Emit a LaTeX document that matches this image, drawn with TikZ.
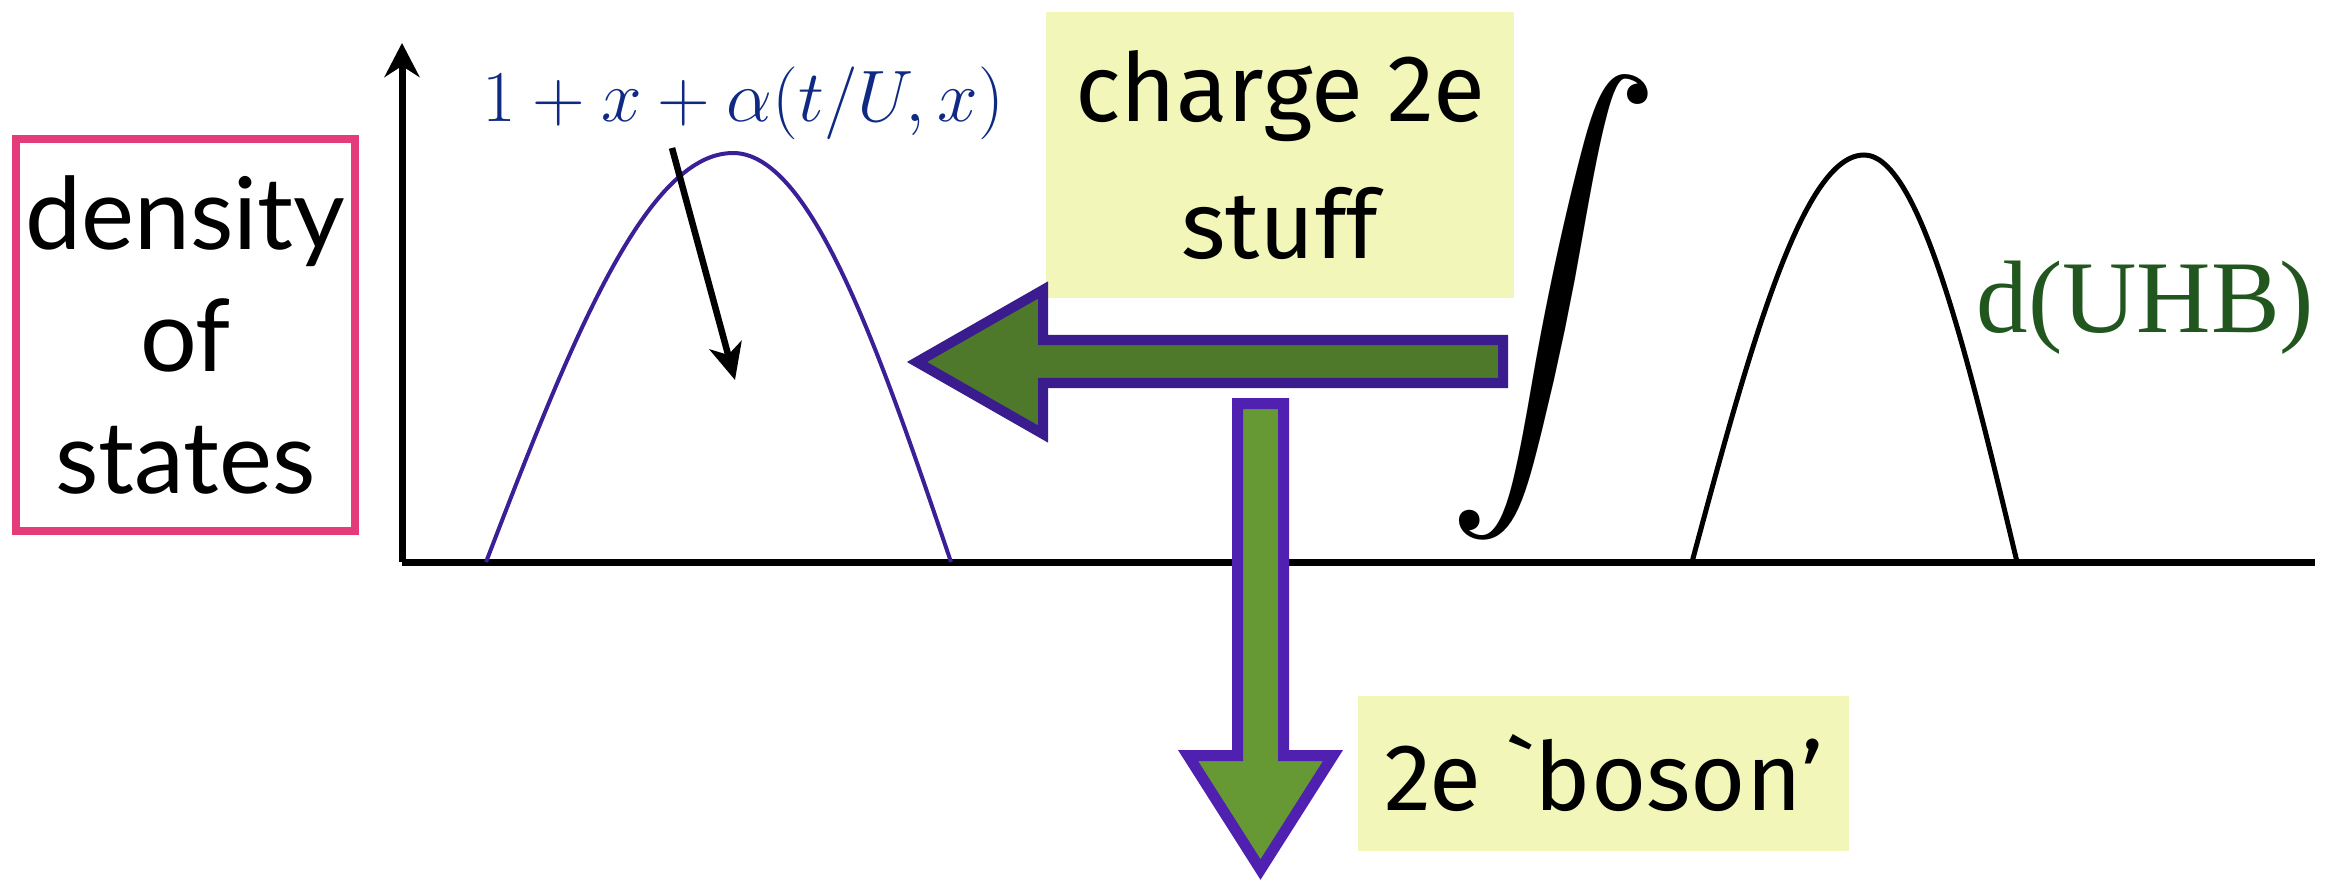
\documentclass[tikz,border=0pt]{standalone}
\usepackage{fontspec}
\usepackage{graphicx}
\usetikzlibrary{arrows.meta}
\newfontfamily\dosfont{Lato}
\newfontfamily\notefont[Ligatures=TeX]{Fira Sans}
\newfontfamily\bandfont{Liberation Serif}
\definecolor{dospink}{RGB}{228,59,122}
\definecolor{noteyellow}{RGB}{242,246,184}
\definecolor{formulablue}{RGB}{16,42,131}
\definecolor{lhbblue}{RGB}{58,31,150}
\definecolor{uhbgreen}{RGB}{33,86,30}
\definecolor{leftfill}{RGB}{78,121,42}
\definecolor{leftdraw}{RGB}{58,28,143}
\definecolor{downfill}{RGB}{102,153,51}
\definecolor{downdraw}{RGB}{80,32,176}

\begin{document}
\begin{tikzpicture}[x=0.01cm, y=-0.01cm, >={Stealth}]
  % Define styles
  \tikzstyle{axis} = [line width=0.07cm, black]
  \tikzstyle{note} = [fill=noteyellow, inner sep=0pt, align=center, font=\notefont\fontsize{27}{39}\selectfont]
  \tikzstyle{bigarrow} = [line width=0.1cm, line join=miter]

  \useasboundingbox (0,0) rectangle (2337,879);

  % Nodes
  \node[draw=dospink, line width=0.08cm, minimum width=3.39cm, minimum height=3.92cm, align=center, inner sep=0pt, font=\dosfont\fontsize{28.5}{34.7}\selectfont] (dos) at (185.5,335) {density\\of\\states};
  \node[note, minimum width=4.68cm, minimum height=2.86cm] (charge) at (1280,155) {charge 2e\\stuff};
  \node[note, minimum width=4.91cm, minimum height=1.55cm] (boson) at (1603.5,773.5) {2e \textasciigrave boson'};
  \node[formulablue, anchor=base west, inner sep=0pt, font=\fontsize{21}{25}\selectfont] (formula) at (482,122) {$1+x+\alpha(t/U,x)$};
  \node[inner sep=0pt] (integral) at (1554,307.5) {\scalebox{6.05}[5.96]{$\displaystyle\int$}};
  \node[uhbgreen, anchor=base east, inner sep=0pt, font=\bandfont\fontsize{29.3}{34}\selectfont] (uhb) at (2315,332) {d(UHB)};

  % Axes
  \coordinate (origin) at (402,562);
  \coordinate (ytop) at (402,43);
  \coordinate (xend) at (2315,562);
  \draw[axis, -{Stealth[length=0.34cm, width=0.35cm]}] (origin) -- (ytop);
  \draw[axis] (origin) -- (xend);

  % Bands
  \draw[lhbblue, line width=0.04cm] plot[domain=-90:90, samples=73, smooth] ({733+(\x<0)*2.744*\x+(\x>=0)*2.422*\x}, {562-409*cos(\x)});
  \draw[black, line width=0.05cm] plot[domain=-90:90, samples=73, smooth] ({1864+(\x<0)*1.911*\x+(\x>=0)*1.7*\x}, {562-407*cos(\x)});

  % Arrows
  \coordinate (ptrstart) at (672,148);
  \coordinate (ptrend) at (735,380);
  \draw[line width=0.065cm, -{Stealth[length=0.36cm, width=0.33cm, inset=0.1cm]}] (ptrstart) -- (ptrend);
  \draw[bigarrow, draw=leftdraw, fill=leftfill] (917,362) -- (1043,290) -- (1043,340) -- (1503,340) -- (1503,383) -- (1043,383) -- (1043,434) -- cycle;
  \draw[bigarrow, draw=downdraw, fill=downfill, line width=0.11cm] (1237.5,403.5) -- (1283.5,403.5) -- (1283.5,755.5) -- (1333,755.5) -- (1260.5,869.5) -- (1188,755.5) -- (1237.5,755.5) -- cycle;
\end{tikzpicture}
\end{document}
